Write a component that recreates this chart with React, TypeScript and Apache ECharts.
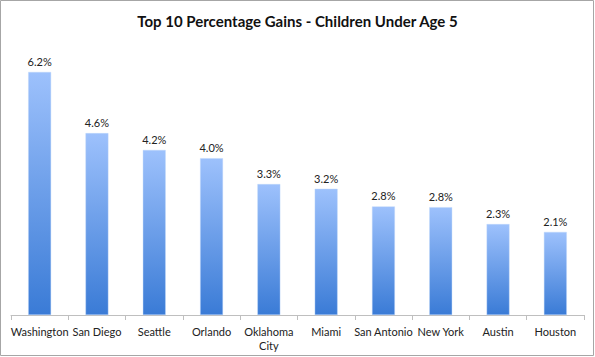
import React, { useEffect, useRef } from "react";
import * as echarts from "echarts";

const categories = ["Washington", "San Diego", "Seattle", "Orlando", "Oklahoma City", "Miami", "San Antonio", "New York", "Austin", "Houston"];
const gains = [6.2, 4.64, 4.21, 4.0, 3.34, 3.22, 2.77, 2.75, 2.32, 2.12];
const titleText = "Top 10 Percentage Gains - Children Under Age 5";

export default function App() {
  const ref = useRef<HTMLDivElement>(null);
  useEffect(() => {
    document.body.style.margin = "0";
    const chart = echarts.init(ref.current!, null, { renderer: "svg" });
    const font = "Lato, 'Open Sans', sans-serif";
    chart.setOption({
      animation: false,
      backgroundColor: "#ffffff",
      title: {
        text: titleText,
        left: "center",
        top: 8,
        textStyle: { fontFamily: font, fontSize: 15, fontWeight: "bold", color: "#111" },
      },
      graphic: [
        {
          type: "rect",
          shape: { x: 0.5, y: 0.5, width: 593, height: 355 },
          style: { fill: "none", stroke: "#a6a6a6", lineWidth: 1 },
          silent: true,
        },
      ],
      grid: { left: 11, right: 11, top: 40.6, bottom: 42 },
      xAxis: {
        type: "category",
        data: categories,
        axisLine: { lineStyle: { color: "#bfbfbf", width: 1 } },
        axisTick: { show: true, length: 5, lineStyle: { color: "#bfbfbf" } },
        axisLabel: {
          interval: 0,
          margin: 9,
          fontFamily: font,
          fontSize: 11,
          color: "#222",
          lineHeight: 14,
          formatter: (v: string) => (v === "Oklahoma City" ? "Oklahoma\nCity" : v),
        },
      },
      yAxis: { type: "value", min: 0, max: 7, show: false, splitLine: { show: false } },
      series: [
        {
          type: "bar",
          data: gains,
          barWidth: "40%",
          itemStyle: {
            color: new echarts.graphic.LinearGradient(0, 0, 0, 1, [
              { offset: 0, color: "#9dc1fc" },
              { offset: 1, color: "#3a7bd6" },
            ]),
            borderColor: "rgba(190,215,250,0.8)",
            borderWidth: 0.5,
          },
          label: {
            show: true,
            position: "top",
            distance: 5,
            fontFamily: font,
            fontSize: 11,
            color: "#222",
            formatter: (p: any) => p.value.toFixed(1) + "%",
          },
        },
      ],
    });
    return () => chart.dispose();
  }, []);
  return <div ref={ref} style={{ width: 595, height: 357 }} />;
}
